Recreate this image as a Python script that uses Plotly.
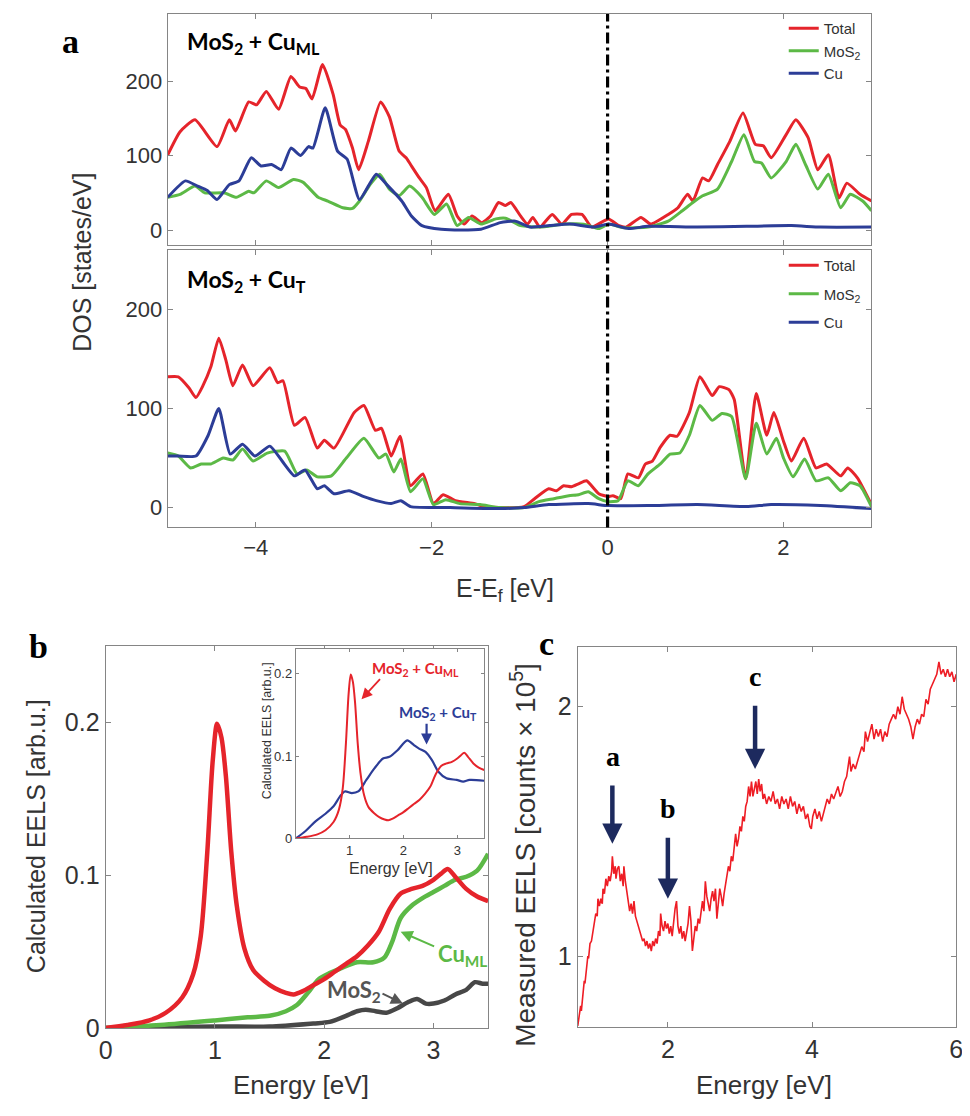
import plotly.graph_objects as go

# ---------------- Panel a : DOS ----------------
# top: MoS2 + Cu_ML
a1_tot_E = [-5.00,-4.86,-4.69,-4.44,-4.30,-4.23,-4.08,-3.99,-3.88,-3.74,-3.60,-3.50,-3.43,-3.36,-3.24,-3.12,-3.04,-2.98,-2.90,-2.83,-2.72,-2.58,-2.48,-2.37,-2.29,-2.24,-2.14,-2.06,-1.96,-1.81,-1.71,-1.63,-1.54,-1.43,-1.33,-1.24,-1.16,-1.10,-0.99,-0.91,-0.85,-0.77,-0.63,-0.52,-0.41,-0.29,-0.18,0.01,0.13,0.21,0.38,0.49,0.69,0.80,0.91,0.97,1.08,1.15,1.25,1.39,1.54,1.68,1.77,1.86,2.03,2.14,2.28,2.39,2.51,2.63,2.72,2.87,3.00]
a1_tot_v = [101,132,148,112,148,133,172,168,186,162,206,192,190,176,222,182,141,135,110,81,119,172,152,106,97,88,70,57,26,48,19,8,19,10,19,37,33,37,19,8,17,4,21,8,21,21,4,15,6,4,17,8,21,30,48,39,70,66,88,119,157,115,113,97,128,148,124,81,101,43,63,48,39]
a1_mos_E = [-5.00,-4.86,-4.69,-4.58,-4.36,-4.22,-4.08,-4.02,-3.88,-3.74,-3.57,-3.46,-3.29,-3.18,-3.01,-2.90,-2.82,-2.70,-2.59,-2.48,-2.37,-2.25,-2.11,-1.97,-1.83,-1.71,-1.58,-1.44,-1.27,-1.16,-0.99,-0.77,-0.49,-0.27,-0.10,0.01,0.18,0.46,0.69,0.85,0.97,1.08,1.25,1.41,1.55,1.67,1.75,1.86,2.03,2.14,2.25,2.39,2.51,2.65,2.76,2.90,3.00]
a1_mos_v = [44,48,59,50,50,44,52,50,66,57,68,64,44,39,30,29,39,61,75,55,46,59,44,21,35,6,17,8,15,16,6,4,8,8,2,8,3,4,12,26,37,46,55,92,128,92,90,70,92,115,88,55,75,30,48,39,26]
a1_cu_E = [-5.00,-4.80,-4.66,-4.55,-4.44,-4.30,-4.19,-4.05,-3.94,-3.82,-3.71,-3.60,-3.49,-3.40,-3.35,-3.21,-3.07,-2.96,-2.82,-2.63,-2.51,-2.34,-2.23,-2.11,-1.89,-1.67,-1.44,-1.22,-1.05,-0.88,-0.66,-0.43,-0.15,0.01,0.24,0.46,1.02,1.58,2.09,2.42,3.00]
a1_cu_v = [44,66,59,53,41,61,66,97,86,88,81,110,100,112,110,164,106,95,41,75,61,39,19,6,1,0,1,10,12,4,6,8,4,8,2,5,4,5,6,4,4]

# bottom: MoS2 + Cu_T
a2_tot_E = [-5.00,-4.88,-4.76,-4.68,-4.60,-4.51,-4.42,-4.34,-4.26,-4.15,-4.03,-3.84,-3.75,-3.69,-3.56,-3.44,-3.30,-3.22,-3.11,-2.88,-2.77,-2.64,-2.57,-2.46,-2.36,-2.24,-2.10,-1.98,-1.87,-1.73,-1.51,-1.40,-1.23,-0.95,-0.83,-0.67,-0.58,-0.50,-0.41,-0.33,-0.24,-0.10,0.01,0.06,0.15,0.23,0.35,0.43,0.51,0.60,0.71,0.79,0.93,1.05,1.19,1.27,1.38,1.44,1.57,1.69,1.81,1.89,2.00,2.09,2.23,2.37,2.49,2.65,2.73,2.84,3.00]
a2_tot_v = [132,132,121,111,123,142,171,149,123,144,123,141,126,128,83,91,60,68,60,96,103,78,80,52,72,22,34,4,13,7,4,1,0,1,9,19,17,22,21,24,27,14,11,12,9,34,30,44,47,61,73,72,96,132,113,122,119,109,29,115,73,96,67,47,70,40,44,32,40,30,3]
a2_mos_E = [-5.00,-4.88,-4.74,-4.62,-4.51,-4.37,-4.26,-4.15,-4.03,-3.87,-3.67,-3.53,-3.42,-3.30,-3.14,-2.97,-2.77,-2.60,-2.52,-2.43,-2.35,-2.24,-2.10,-1.98,-1.84,-1.68,-1.45,-1.23,-0.95,-0.78,-0.61,-0.44,-0.33,-0.22,-0.10,0.01,0.12,0.23,0.35,0.46,0.60,0.71,0.82,0.93,1.05,1.19,1.30,1.41,1.57,1.69,1.81,1.92,2.00,2.11,2.24,2.37,2.51,2.65,2.76,2.87,3.00]
a2_mos_v = [55,52,40,44,44,50,48,59,47,55,57,34,38,31,32,50,70,50,54,36,49,16,29,3,8,4,3,0,0,6,9,12,13,16,9,6,7,27,22,34,44,54,55,73,103,88,95,92,29,85,54,70,50,31,49,27,30,17,25,22,1]
a2_cu_E = [-5.00,-4.88,-4.68,-4.54,-4.42,-4.29,-4.15,-4.01,-3.84,-3.70,-3.56,-3.44,-3.30,-3.22,-3.11,-2.94,-2.77,-2.63,-2.46,-2.35,-2.24,-1.79,-1.23,-0.95,-0.67,-0.22,0.01,0.46,1.02,1.58,1.86,2.42,3.00]
a2_cu_v = [52,52,52,73,100,54,64,52,62,47,32,38,19,22,14,17,11,7,4,7,1,0,-1,0,3,4,2,2,3,1,3,2,-1]

a_xticks = [-4, -2, 0, 2]
a_yticks = [0, 100, 200]

# ---------------- Panel b : calculated EELS ----------------
b_ml_E = [0,0.2,0.4,0.55,0.7,0.8,0.87,0.93,0.98,1.02,1.06,1.1,1.15,1.2,1.27,1.35,1.45,1.55,1.65,1.72,1.8,1.9,2.0,2.1,2.2,2.3,2.4,2.5,2.6,2.7,2.8,2.9,3.0,3.07,3.13,3.2,3.3,3.4,3.5]
b_ml_v = [0,0.002,0.005,0.010,0.020,0.035,0.060,0.115,0.175,0.199,0.190,0.165,0.115,0.080,0.052,0.038,0.031,0.026,0.023,0.022,0.024,0.028,0.032,0.037,0.042,0.047,0.054,0.063,0.078,0.088,0.091,0.093,0.097,0.101,0.104,0.099,0.091,0.086,0.083]
b_cu_E = [0,0.5,1.0,1.3,1.5,1.65,1.75,1.85,1.95,2.05,2.15,2.3,2.45,2.55,2.62,2.7,2.8,2.9,3.0,3.1,3.2,3.3,3.4,3.5]
b_cu_v = [0,0.002,0.005,0.007,0.008,0.011,0.015,0.023,0.032,0.036,0.039,0.043,0.043,0.046,0.056,0.072,0.080,0.085,0.089,0.093,0.097,0.099,0.103,0.114]
b_mos_E = [0,1.0,1.5,1.9,2.05,2.2,2.3,2.38,2.47,2.57,2.67,2.77,2.85,2.93,3.0,3.1,3.2,3.3,3.38,3.45,3.5]
b_mos_v = [0,0.001,0.001,0.003,0.004,0.008,0.011,0.012,0.011,0.010,0.013,0.017,0.019,0.016,0.016,0.018,0.022,0.025,0.030,0.029,0.029]
# inset: MoS2 + Cu_T
b_t_E = [0,0.18,0.37,0.55,0.70,0.82,0.91,1.04,1.16,1.31,1.46,1.62,1.74,1.89,2.07,2.20,2.29,2.41,2.53,2.65,2.80,2.99,3.11,3.23,3.5]
b_t_v = [0,0.009,0.021,0.030,0.039,0.051,0.057,0.055,0.057,0.071,0.085,0.097,0.099,0.107,0.119,0.113,0.109,0.105,0.095,0.081,0.073,0.071,0.069,0.071,0.070]

# ---------------- Panel c : measured EELS ----------------
c_E = [0.75,0.77,0.79,0.80,0.82,0.84,0.85,0.87,0.89,0.90,0.92,0.94,0.96,0.98,1.00,1.02,1.03,1.05,1.07,1.09,1.10,1.12,1.14,1.16,1.18,1.20,1.22,1.23,1.25,1.27,1.28,1.30,1.32,1.34,1.36,1.38,1.39,1.41,1.43,1.45,1.47,1.49,1.51,1.53,1.55,1.57,1.59,1.61,1.63,1.65,1.67,1.69,1.71,1.73,1.75,1.77,1.79,1.81,1.83,1.85,1.87,1.89,1.90,1.92,1.94,1.96,1.98,2.00,2.02,2.04,2.06,2.08,2.10,2.12,2.14,2.16,2.18,2.20,2.22,2.24,2.26,2.28,2.30,2.32,2.34,2.36,2.38,2.40,2.42,2.44,2.46,2.48,2.50,2.52,2.54,2.56,2.58,2.60,2.62,2.64,2.66,2.68,2.70,2.72,2.74,2.76,2.78,2.80,2.82,2.84,2.86,2.88,2.90,2.92,2.94,2.96,2.98,3.00,3.02,3.04,3.06,3.08,3.10,3.12,3.14,3.16,3.18,3.20,3.22,3.24,3.26,3.28,3.30,3.32,3.34,3.37,3.40,3.43,3.46,3.49,3.52,3.55,3.58,3.61,3.64,3.67,3.70,3.73,3.76,3.79,3.82,3.85,3.88,3.91,3.94,3.97,3.99,4.01,4.04,4.07,4.10,4.13,4.15,4.18,4.21,4.24,4.27,4.30,4.33,4.36,4.39,4.42,4.45,4.48,4.50,4.52,4.54,4.57,4.60,4.63,4.66,4.69,4.72,4.74,4.77,4.80,4.83,4.86,4.89,4.92,4.95,4.98,5.01,5.04,5.07,5.10,5.13,5.16,5.19,5.22,5.25,5.28,5.31,5.34,5.37,5.40,5.43,5.46,5.49,5.52,5.55,5.58,5.61,5.64,5.67,5.70,5.73,5.76,5.79,5.82,5.85,5.88,5.91,5.94,5.97,6.00]
c_v = [0.72,0.76,0.80,0.78,0.86,0.90,0.89,0.96,1.00,0.99,1.05,1.06,1.10,1.14,1.17,1.16,1.23,1.20,1.23,1.21,1.27,1.25,1.31,1.28,1.32,1.30,1.34,1.40,1.33,1.36,1.31,1.35,1.36,1.30,1.33,1.28,1.36,1.30,1.26,1.22,1.18,1.21,1.17,1.22,1.16,1.14,1.12,1.10,1.08,1.06,1.07,1.04,1.06,1.03,1.05,1.02,1.06,1.04,1.07,1.05,1.10,1.08,1.17,1.12,1.10,1.14,1.11,1.13,1.09,1.12,1.08,1.14,1.19,1.22,1.12,1.09,1.12,1.07,1.10,1.06,1.09,1.13,1.20,1.14,1.02,1.08,1.12,1.10,1.15,1.13,1.19,1.22,1.18,1.30,1.24,1.20,1.18,1.23,1.26,1.22,1.27,1.15,1.20,1.27,1.24,1.20,1.25,1.29,1.33,1.36,1.34,1.40,1.38,1.45,1.49,1.44,1.47,1.52,1.50,1.56,1.54,1.60,1.62,1.68,1.64,1.70,1.64,1.67,1.70,1.65,1.71,1.66,1.69,1.63,1.65,1.61,1.64,1.62,1.66,1.61,1.63,1.59,1.64,1.61,1.63,1.59,1.64,1.60,1.62,1.57,1.61,1.58,1.60,1.55,1.57,1.52,1.51,1.56,1.59,1.55,1.58,1.54,1.56,1.60,1.63,1.61,1.65,1.63,1.66,1.68,1.64,1.66,1.70,1.72,1.76,1.80,1.74,1.77,1.75,1.78,1.80,1.84,1.82,1.90,1.86,1.89,1.93,1.87,1.91,1.88,1.91,1.86,1.90,1.88,1.93,1.95,1.97,1.95,2.00,1.97,2.04,1.99,1.97,1.95,1.92,1.87,1.92,1.95,1.93,1.97,1.96,2.03,2.01,2.07,2.09,2.11,2.13,2.18,2.13,2.15,2.12,2.15,2.12,2.14,2.10,2.13]

RED = "#e5242b"
GREEN = "#5cb946"
BLUE = "#2c3d97"
GRAY = "#474747"
NAVY = "#1d2a5e"
AXC = "#858585"
TXT = "#333333"
SANS = "Liberation Sans, Arial, sans-serif"
SERIF = "Liberation Serif, Times New Roman, serif"
CAL = "Lato, Open Sans, sans-serif"

fig = go.Figure()

def dos(x, y, name, color, xa, ya, leg):
    fig.add_trace(go.Scatter(x=x, y=y, mode="lines", name=name, xaxis=xa, yaxis=ya,
                             line=dict(color=color, width=3, shape="spline", smoothing=0.5),
                             legend=leg, legendgroup=leg + name, showlegend=True))

dos(a1_tot_E, a1_tot_v, "Total", RED, "x", "y", "legend")
dos(a1_mos_E, a1_mos_v, "MoS<sub>2</sub>", GREEN, "x", "y", "legend")
dos(a1_cu_E, a1_cu_v, "Cu", BLUE, "x", "y", "legend")
dos(a2_tot_E, a2_tot_v, "Total", RED, "x2", "y2", "legend2")
dos(a2_mos_E, a2_mos_v, "MoS<sub>2</sub>", GREEN, "x2", "y2", "legend2")
dos(a2_cu_E, a2_cu_v, "Cu", BLUE, "x2", "y2", "legend2")

# panel b main
fig.add_trace(go.Scatter(x=b_mos_E, y=b_mos_v, mode="lines", xaxis="x3", yaxis="y3", showlegend=False,
                         line=dict(color=GRAY, width=4.5, shape="spline", smoothing=0.8)))
fig.add_trace(go.Scatter(x=b_cu_E, y=b_cu_v, mode="lines", xaxis="x3", yaxis="y3", showlegend=False,
                         line=dict(color=GREEN, width=4.5, shape="spline", smoothing=0.8)))
fig.add_trace(go.Scatter(x=b_ml_E, y=b_ml_v, mode="lines", xaxis="x3", yaxis="y3", showlegend=False,
                         line=dict(color=RED, width=4.5, shape="spline", smoothing=0.8)))
# inset
fig.add_trace(go.Scatter(x=b_t_E, y=b_t_v, mode="lines", xaxis="x4", yaxis="y4", showlegend=False,
                         line=dict(color=BLUE, width=2.2, shape="spline", smoothing=0.8)))
fig.add_trace(go.Scatter(x=b_ml_E, y=b_ml_v, mode="lines", xaxis="x4", yaxis="y4", showlegend=False,
                         line=dict(color=RED, width=2.0, shape="spline", smoothing=0.8)))
# panel c
fig.add_trace(go.Scatter(x=c_E, y=c_v, mode="lines", xaxis="x5", yaxis="y5", showlegend=False,
                         line=dict(color="#ee1d25", width=1.6)))

W, H = 970, 1116
OFF = 8  # the page body adds an 8px margin; place things in page pixels
def fx(x):
    return (x - OFF) / W
def fy(y):
    return 1 - (y - OFF) / H
def px(x0, x1):
    return [fx(x0), fx(x1)]
def py(y0, y1):  # y0 top pixel, y1 bottom pixel
    return [fy(y1), fy(y0)]

def ax(domain, rng, tickvals=None, showlabels=True, fs=20, **kw):
    d = dict(domain=domain, range=rng, showline=True, mirror="ticks", linecolor=AXC, linewidth=1.2,
             ticks="inside", ticklen=5, tickcolor=AXC, showgrid=False, zeroline=False,
             tickfont=dict(family=SANS, size=fs, color=TXT), showticklabels=showlabels)
    if tickvals is not None:
        d["tickmode"] = "array"
        d["tickvals"] = tickvals
    d.update(kw)
    return d

A_X = px(163, 877)
A_TOP = py(14, 248)
A_BOT = py(253, 534)

layout = dict(
    width=W, height=H, margin=dict(l=0, r=0, t=0, b=0),
    paper_bgcolor="white", plot_bgcolor="white",
    xaxis=ax(A_X, [-5, 3], a_xticks, False, anchor="y"),
    yaxis=ax(A_TOP, [-20, 290], a_yticks, True, 22, anchor="x"),
    xaxis2=ax(A_X, [-5, 3], a_xticks, True, 22, anchor="y2"),
    yaxis2=ax(A_BOT, [-20, 260], a_yticks, True, 22, anchor="x2"),
    xaxis3=ax(px(100, 488), [0, 3.5], [0, 1, 2, 3], True, 25, anchor="y3"),
    yaxis3=ax(py(654, 1041), [0, 0.25], [0, 0.1, 0.2], True, 25, anchor="x3"),
    xaxis4=ax(px(293, 484), [0, 3.5], [1, 2, 3], True, 13, anchor="y4", ticklen=3),
    yaxis4=ax(py(657, 849), [0, 0.23], [0, 0.1, 0.2], True, 13, anchor="x4", ticklen=3),
    xaxis5=ax(px(579, 963), [0.75, 6], [2, 4, 6], True, 25, anchor="y5"),
    yaxis5=ax(py(655, 1040), [0.715, 2.24], [1, 2], True, 25, anchor="x5"),
    legend=dict(x=fx(788), y=fy(12), xanchor="left", yanchor="top", bgcolor="rgba(0,0,0,0)",
                font=dict(family=SANS, size=15, color=TXT), itemwidth=30, tracegroupgap=0),
    legend2=dict(x=fx(788), y=fy(252), xanchor="left", yanchor="top", bgcolor="rgba(0,0,0,0)",
                 font=dict(family=SANS, size=15, color=TXT), itemwidth=30, tracegroupgap=6),
)
fig.update_layout(**layout)
# inset background hides the main-panel curves behind it
fig.add_shape(type="rect", xref="paper", yref="paper", x0=fx(293), x1=fx(484),
              y0=fy(849), y1=fy(657), fillcolor="white", line=dict(width=0), layer="below")

# E_f line
fig.add_shape(type="line", xref="x", yref="paper", x0=0, x1=0, y0=A_BOT[0], y1=A_TOP[1],
              line=dict(color="black", width=3.2, dash="11px,4px,3px,4px"))

ann = []
def txt(text, x, y, size, family=SANS, color=TXT, xref="paper", yref="paper", angle=0,
        xanchor="center", yanchor="middle", bold=False):
    if bold:
        text = "<b>" + text + "</b>"
    if xref == "paper":
        x, y = fx(x), fy(y)
    ann.append(dict(text=text, x=x, y=y, xref=xref, yref=yref, showarrow=False, textangle=angle,
                    xanchor=xanchor, yanchor=yanchor, font=dict(family=family, size=size, color=color)))

# panel letters (page pixels)
txt("a", 64, 42, 34, SERIF, "black", bold=True)
txt("b", 32, 655, 34, SERIF, "black", bold=True)
txt("c", 547, 652, 34, SERIF, "black", bold=True)
# panel a texts
txt("MoS<sub>2</sub> + Cu<sub>ML</sub>", 180, 43, 23, CAL, "black", xanchor="left", bold=True)
txt("MoS<sub>2</sub> + Cu<sub>T</sub>", 180, 284, 23, CAL, "black", xanchor="left", bold=True)
txt("DOS [states/eV]", 76, 266, 25, SANS, TXT, angle=-90)
txt("E-E<sub>f</sub> [eV]", 505, 597, 25, SANS, TXT)
# panel b texts
txt("Calculated EELS [arb.u.]", 30, 847, 25, SANS, TXT, angle=-90)
txt("Energy [eV]", 298, 1099, 26, SANS, TXT)
txt("Calculated EELS [arb.u.]", 263, 740, 12.5, SANS, TXT, angle=-90)
txt("Energy [eV]", 390, 879, 16, SANS, TXT)
txt("Cu<sub>ML</sub>", 3.27, 0.048, 22, CAL, GREEN, "x3", "y3", bold=True)
txt("MoS<sub>2</sub>", 2.27, 0.024, 22, CAL, "#555555", "x3", "y3", bold=True)
txt("MoS<sub>2</sub> + Cu<sub>ML</sub>", 2.23, 0.205, 15, CAL, RED, "x4", "y4", bold=True)
txt("MoS<sub>2</sub> + Cu<sub>T</sub>", 2.65, 0.152, 15, CAL, BLUE, "x4", "y4", bold=True)
# panel c texts
txt("Measured EELS [counts × 10<sup>5</sup>]", 524, 866, 28, SANS, TXT, angle=-90)
txt("Energy [eV]", 768, 1099, 26, SANS, TXT)
txt("a", 1.24, 1.80, 28, SERIF, "black", "x5", "y5", bold=True)
txt("b", 2.00, 1.59, 28, SERIF, "black", "x5", "y5", bold=True)
txt("c", 3.21, 2.12, 28, SERIF, "black", "x5", "y5", bold=True)

def arrow(x, y, axv, ayv, xa, ya, color, width, head=2, size=1.0):
    ann.append(dict(text="", x=x, y=y, ax=axv, ay=ayv, xref=xa, yref=ya, axref=xa, ayref=ya,
                    showarrow=True, arrowhead=head, arrowsize=size, arrowwidth=width, arrowcolor=color))

arrow(1.23, 1.45, 1.23, 1.69, "x5", "y5", NAVY, 4.5, 2, 0.9)
arrow(2.00, 1.23, 2.00, 1.48, "x5", "y5", NAVY, 4.5, 2, 0.9)
arrow(3.21, 1.75, 3.21, 2.01, "x5", "y5", NAVY, 4.5, 2, 0.9)
arrow(2.70, 0.063, 3.02, 0.053, "x3", "y3", GREEN, 2, 2, 1.2)
arrow(2.72, 0.016, 2.52, 0.023, "x3", "y3", "#555555", 2, 2, 1.2)
arrow(1.22, 0.169, 1.59, 0.195, "x4", "y4", RED, 1.8, 2, 1.2)
arrow(2.43, 0.114, 2.43, 0.141, "x4", "y4", BLUE, 2.2, 2, 1.0)

fig.update_layout(annotations=ann)
fig.write_html("out.html")
